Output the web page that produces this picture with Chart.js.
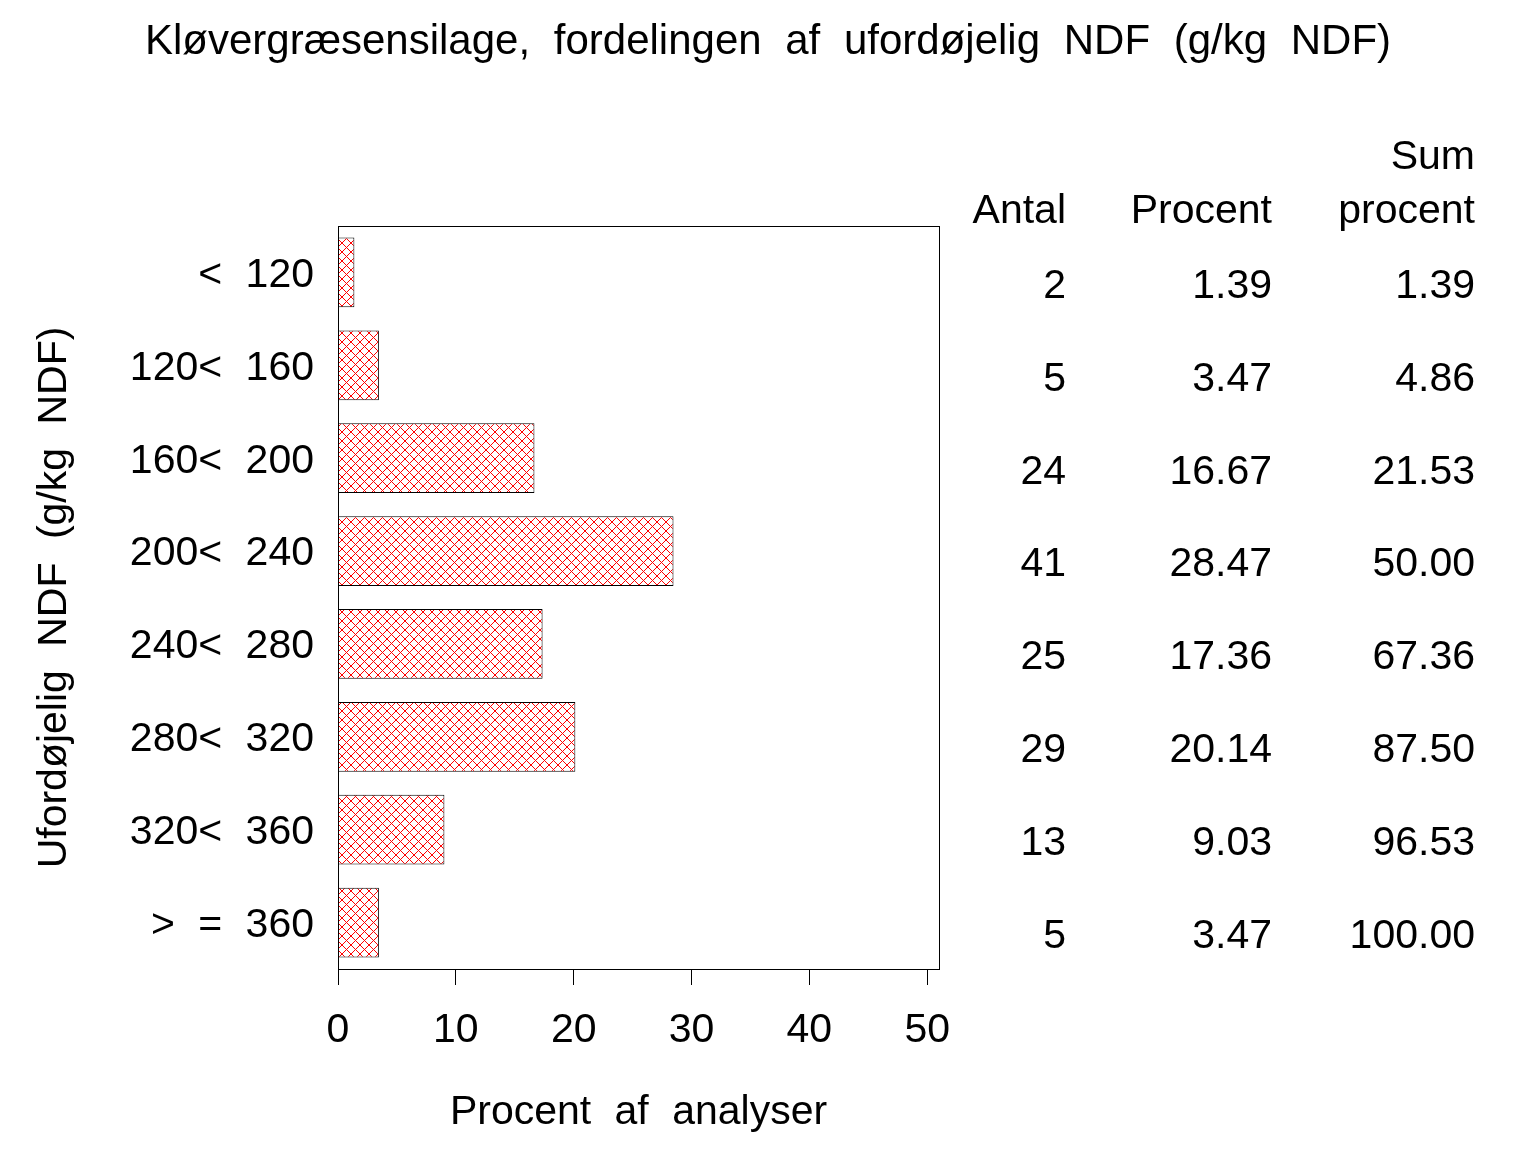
<!DOCTYPE html>
<html>
<head>
<meta charset="utf-8">
<script src="https://cdn.jsdelivr.net/npm/chart.js@4.4.1/dist/chart.umd.min.js"></script>
<style>
  html, body { margin: 0; padding: 0; background: #fff; }
  #wrap { width: 1536px; height: 1152px; }
</style>
</head>
<body>
<div id="wrap"><canvas id="chart" width="1536" height="1152"></canvas></div>
<script>
// Data
const categories = ["< 120", "120< 160", "160< 200", "200< 240", "240< 280", "280< 320", "320< 360", "> = 360"];
const antal = [2, 5, 24, 41, 25, 29, 13, 5];
const procent = [1.39, 3.47, 16.67, 28.47, 17.36, 20.14, 9.03, 3.47];
const sumProcent = [1.39, 4.86, 21.53, 50.00, 67.36, 87.50, 96.53, 100.00];
const xTicks = [0, 10, 20, 30, 40, 50];
const titleText = "Kløvergræsensilage, fordelingen af ufordøjelig NDF (g/kg NDF)";

const FONT = "'Liberation Sans', Arial, sans-serif";

// Red crosshatch fill
function makeHatch() {
  const p = document.createElement("canvas");
  const n = 9;
  p.width = n; p.height = n;
  const c = p.getContext("2d");
  c.fillStyle = "#fff";
  c.fillRect(0, 0, n, n);
  c.fillStyle = "#ff0000";
  for (let i = 0; i < n; i++) {
    c.fillRect(i, i, 1, 1);
    c.fillRect(n - 1 - i, i, 1, 1);
  }
  return document.getElementById("chart").getContext("2d").createPattern(p, "repeat");
}

// wide word gaps like the original output
const spacing = {
  id: "spacing",
  beforeDraw(chart) {
    chart.ctx.wordSpacing = "12px";
  }
};

// Title, frame round the plot, and the table on the right
const extras = {
  id: "extras",
  afterDraw(chart) {
    const { ctx, chartArea: a, scales } = chart;
    ctx.save();
    ctx.strokeStyle = "#000";
    ctx.lineWidth = 1;
    ctx.strokeRect(a.left + 0.5, a.top + 0.5, a.right - a.left, a.bottom - a.top);

    ctx.fillStyle = "#000";
    ctx.textBaseline = "middle";
    ctx.textAlign = "center";
    ctx.font = "42px " + FONT;
    ctx.fillText(titleText, 768, 42);

    ctx.font = "41px " + FONT;
    ctx.textAlign = "right";
    const cols = [1066, 1272, 1475];
    ctx.fillText("Antal", cols[0], 212);
    ctx.fillText("Procent", cols[1], 212);
    ctx.fillText("Sum", cols[2], 158);
    ctx.fillText("procent", cols[2], 212);
    categories.forEach((c, i) => {
      const y = scales.y.getPixelForValue(i) + 14;
      ctx.fillText(String(antal[i]), cols[0], y);
      ctx.fillText(procent[i].toFixed(2), cols[1], y);
      ctx.fillText(sumProcent[i].toFixed(2), cols[2], y);
    });
    ctx.restore();
  }
};

const ctx = document.getElementById("chart").getContext("2d");
const chart = new Chart(ctx, {
  type: "bar",
  data: {
    labels: categories,
    datasets: [{
      data: procent,
      backgroundColor: makeHatch(),
      borderColor: "#000",
      borderWidth: 1,
      barPercentage: 0.75,
      categoryPercentage: 1
    }]
  },
  options: {
    indexAxis: "y",
    responsive: false,
    animation: false,
    layout: { padding: { top: 226, right: 597, bottom: 0, left: 0 } },
    plugins: {
      legend: { display: false },
      tooltip: { enabled: false },
      title: { display: false }
    },
    scales: {
      x: {
        min: 0,
        max: 51,
        afterBuildTicks: s => { s.ticks = xTicks.map(v => ({ value: v })); },
        afterFit: s => { s.height = 183; },
        border: { display: true, color: "#000", width: 1 },
        grid: { drawOnChartArea: false, drawTicks: true, tickLength: 16, color: "#000" },
        ticks: { color: "#000", font: { family: FONT, size: 41 }, padding: 21, maxRotation: 0 },
        title: {
          display: true,
          text: "Procent af analyser",
          color: "#000",
          font: { family: FONT, size: 41 },
          padding: { top: 0, bottom: 15 }
        }
      },
      y: {
        afterFit: s => { s.width = 338; },
        border: { display: true, color: "#000", width: 1 },
        grid: { display: false },
        ticks: { color: "#000", font: { family: FONT, size: 41 }, padding: 16, labelOffset: 3 },
        title: {
          display: true,
          text: "Ufordøjelig NDF (g/kg NDF)",
          color: "#000",
          font: { family: FONT, size: 41 },
          padding: { top: 30, bottom: 0 }
        }
      }
    }
  },
  plugins: [spacing, extras]
});
</script>
</body>
</html>
